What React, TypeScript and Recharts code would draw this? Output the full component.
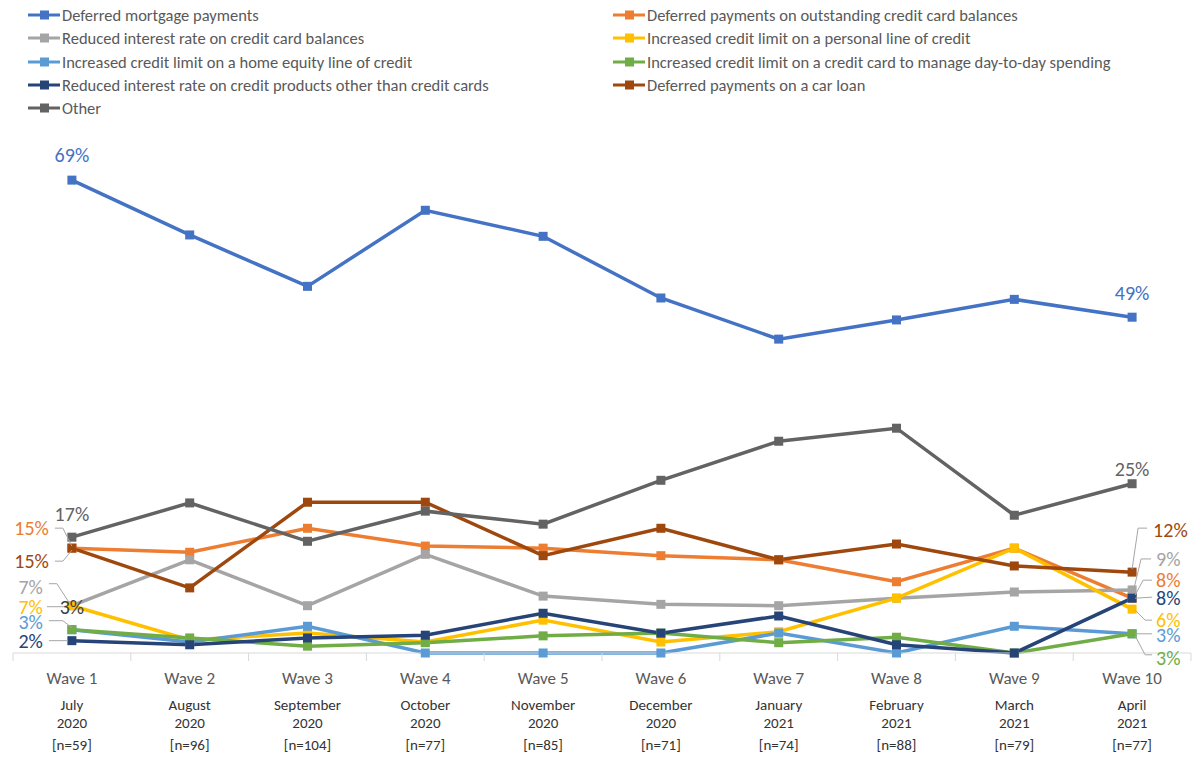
import React from "react"
import { LineChart, Line, XAxis, YAxis, LabelList } from "recharts"

const waves = ["Wave 1", "Wave 2", "Wave 3", "Wave 4", "Wave 5", "Wave 6", "Wave 7", "Wave 8", "Wave 9", "Wave 10"]
const months = ["July", "August", "September", "October", "November", "December", "January", "February", "March", "April"]
const years = ["2020", "2020", "2020", "2020", "2020", "2020", "2021", "2021", "2021", "2021"]
const samples = ["[n=59]", "[n=96]", "[n=104]", "[n=77]", "[n=85]", "[n=71]", "[n=74]", "[n=88]", "[n=79]", "[n=77]"]

const mortgage = [69, 61, 53.5, 64.6, 60.8, 51.8, 45.8, 48.6, 51.6, 49]
const deferredCard = [15.3, 14.7, 18.2, 15.6, 15.3, 14.2, 13.6, 10.4, 15.3, 8]
const reducedCard = [6.9, 13.6, 6.9, 14.4, 8.3, 7.1, 6.9, 8, 8.9, 9.2]
const personalLine = [6.9, 1.9, 2.9, 1.6, 4.8, 1.6, 3.1, 8, 15.3, 6.4]
const homeEquity = [3.4, 1.6, 3.9, 0, 0, 0, 2.9, 0, 3.9, 2.8]
const cardDaily = [3.4, 2.2, 1, 1.5, 2.5, 2.9, 1.5, 2.3, 0, 2.8]
const reducedOther = [1.8, 1.2, 2.2, 2.6, 5.8, 2.9, 5.4, 1.2, 0, 8]
const carLoan = [15.3, 9.5, 22, 22, 14.2, 18.2, 13.6, 15.9, 12.7, 11.8]
const other = [16.9, 21.9, 16.3, 20.7, 18.8, 25.2, 30.9, 32.8, 20.1, 24.7]

type LabelCfg = { dx: number; dy: number; anchor: "start" | "middle" | "end"; leader?: number[][]; color?: string }

const series = [
  { key: "mortgage", name: "Deferred mortgage payments", color: "#4472C4", values: mortgage,
    first: { dx: 0, dy: -25, anchor: "middle" }, last: { dx: 0, dy: -24, anchor: "middle" } },
  { key: "deferredCard", name: "Deferred payments on outstanding credit card balances", color: "#ED7D31", values: deferredCard,
    first: { dx: -23, dy: -20, anchor: "end", leader: [[-17, -20], [-9, -20], [0, -2]] },
    last: { dx: 24, dy: -18, anchor: "start", leader: [[3, -3], [11, -18], [20, -18]] } },
  { key: "reducedCard", name: "Reduced interest rate on credit card balances", color: "#A5A5A5", values: reducedCard,
    first: { dx: -29, dy: -19, anchor: "end", leader: [[-23, -22], [-15, -22], [-2, -2]] },
    last: { dx: 24, dy: -31, anchor: "start", leader: [[2, -2], [9, -31], [19, -31]] } },
  { key: "personalLine", name: "Increased credit limit on a personal line of credit", color: "#FFC000", values: personalLine,
    first: { dx: -29, dy: 1, anchor: "end", leader: [[-25, 1], [-4, 1]] },
    last: { dx: 24, dy: 11, anchor: "start", leader: [[3, 1], [13, 11], [20, 11]] } },
  { key: "homeEquity", name: "Increased credit limit on a home equity line of credit", color: "#5B9BD5", values: homeEquity,
    first: { dx: -29, dy: -8, anchor: "end", leader: [[-23, -9], [-9, -9], [0, -2]] },
    last: { dx: 24, dy: 1, anchor: "start", leader: [[3, 0], [20, 0]] } },
  { key: "cardDaily", name: "Increased credit limit on a credit card to manage day-to-day spending", color: "#70AD47", values: cardDaily,
    first: { dx: 0, dy: -23, anchor: "middle", color: "#404040" },
    last: { dx: 24, dy: 24, anchor: "start", leader: [[3, 2], [13, 21], [20, 21]] } },
  { key: "reducedOther", name: "Reduced interest rate on credit products other than credit cards", color: "#264478", values: reducedOther,
    first: { dx: -29, dy: 0, anchor: "end", leader: [[-23, 0], [-4, 0]] },
    last: { dx: 24, dy: 0, anchor: "start", leader: [[3, 0], [20, -1]] } },
  { key: "carLoan", name: "Deferred payments on a car loan", color: "#9E480E", values: carLoan,
    first: { dx: -23, dy: 13, anchor: "end", leader: [[-17, 13], [-9, 13], [0, 2]] },
    last: { dx: 21, dy: -42, anchor: "start", leader: [[0, -3], [6, -44], [15, -44]] } },
  { key: "other", name: "Other", color: "#636363", values: other,
    first: { dx: 0, dy: -23, anchor: "middle" }, last: { dx: 0, dy: -15, anchor: "middle" } },
] as { key: string; name: string; color: string; values: number[]; first: LabelCfg; last: LabelCfg }[]

const data = waves.map((w, i) => {
  const row: Record<string, string | number> = { wave: w, month: months[i], year: years[i], n: samples[i] }
  series.forEach((s) => (row[s.key] = s.values[i]))
  return row
})

const W = 1197
const H = 763
const LEFT = 13
const RIGHT = 6
const BAND = (W - LEFT - RIGHT) / waves.length
const FONT = "Carlito, Lato, 'Liberation Sans', sans-serif"

const XTick = (props: any) => {
  const { x, y, payload, index } = props
  const i = index ?? waves.indexOf(payload.value)
  return (
    <g>
      <line x1={x - BAND / 2} y1={y} x2={x - BAND / 2} y2={y + 8} stroke="#D9D9D9" />
      {i === waves.length - 1 && <line x1={x + BAND / 2} y1={y} x2={x + BAND / 2} y2={y + 8} stroke="#D9D9D9" />}
      <text x={x} y={y + 31} textAnchor="middle" fontSize={17} fill="#595959" fontFamily={FONT}>{payload.value}</text>
      <text x={x} y={y + 57} textAnchor="middle" fontSize={15} fill="#333333" fontFamily={FONT}>{months[i]}</text>
      <text x={x} y={y + 75} textAnchor="middle" fontSize={15} fill="#333333" fontFamily={FONT}>{years[i]}</text>
      <text x={x} y={y + 97} textAnchor="middle" fontSize={15} fill="#333333" fontFamily={FONT}>{samples[i]}</text>
    </g>
  )
}

const makeLabel = (s: (typeof series)[number]) => (props: any) => {
  const { x, y, value, index } = props
  const last = waves.length - 1
  if (index !== 0 && index !== last) return null
  const cfg = index === 0 ? s.first : s.last
  const pts = cfg.leader ? cfg.leader.map(([px, py]) => `${x + px},${y + py}`).join(" ") : null
  return (
    <g>
      {pts && <polyline points={pts} fill="none" stroke="#A6A6A6" strokeWidth={1} />}
      <text x={x + cfg.dx} y={y + cfg.dy} textAnchor={cfg.anchor} dominantBaseline="central" fontSize={20}
        fill={cfg.color ?? s.color} fontFamily={FONT}>
        {Math.round(Number(value))}%
      </text>
    </g>
  )
}

const Square = (color: string) => (props: any) => {
  const { cx, cy, index } = props
  if (cx == null || cy == null) return <g key={index} />
  return <rect key={index} x={cx - 4.5} y={cy - 4.5} width={9} height={9} fill={color} />
}

const LegendBox = () => (
  <div style={{ position: "absolute", left: 0, top: 0, width: W, fontFamily: FONT, fontSize: 16.5, color: "#595959" }}>
    {series.map((s, i) => {
      const col = i % 2
      const row = Math.floor(i / 2)
      return (
        <div key={s.key} style={{ position: "absolute", left: col === 0 ? 28 : 613, top: 4 + row * 23.3, height: 22, display: "flex", alignItems: "center", whiteSpace: "nowrap" }}>
          <svg width={33} height={12} style={{ marginRight: 1 }}>
            <line x1={0} y1={6} x2={32} y2={6} stroke={s.color} strokeWidth={3} />
            <rect x={12} y={1.5} width={9} height={9} fill={s.color} />
          </svg>
          <span>{s.name}</span>
        </div>
      )
    })}
  </div>
)

export default function App() {
  return (
    <div style={{ position: "absolute", left: 0, top: 0, width: W, height: H, background: "#fff" }}>
      <LineChart width={W} height={H} data={data} margin={{ top: 139, right: RIGHT, bottom: 0, left: LEFT }}>
        <XAxis dataKey="wave" height={110} interval={0} tickLine={false} tickSize={0} tickMargin={0}
          padding={{ left: BAND / 2, right: BAND / 2 }} axisLine={{ stroke: "#D9D9D9" }} tick={<XTick />} />
        <YAxis hide domain={[0, 75]} />
        {series.map((s) => (
          <Line key={s.key} type="linear" dataKey={s.key} name={s.name} stroke={s.color} strokeWidth={3.5}
            dot={Square(s.color)} activeDot={false} isAnimationActive={false}>
            <LabelList dataKey={s.key} content={makeLabel(s)} />
          </Line>
        ))}
      </LineChart>
      <LegendBox />
    </div>
  )
}
